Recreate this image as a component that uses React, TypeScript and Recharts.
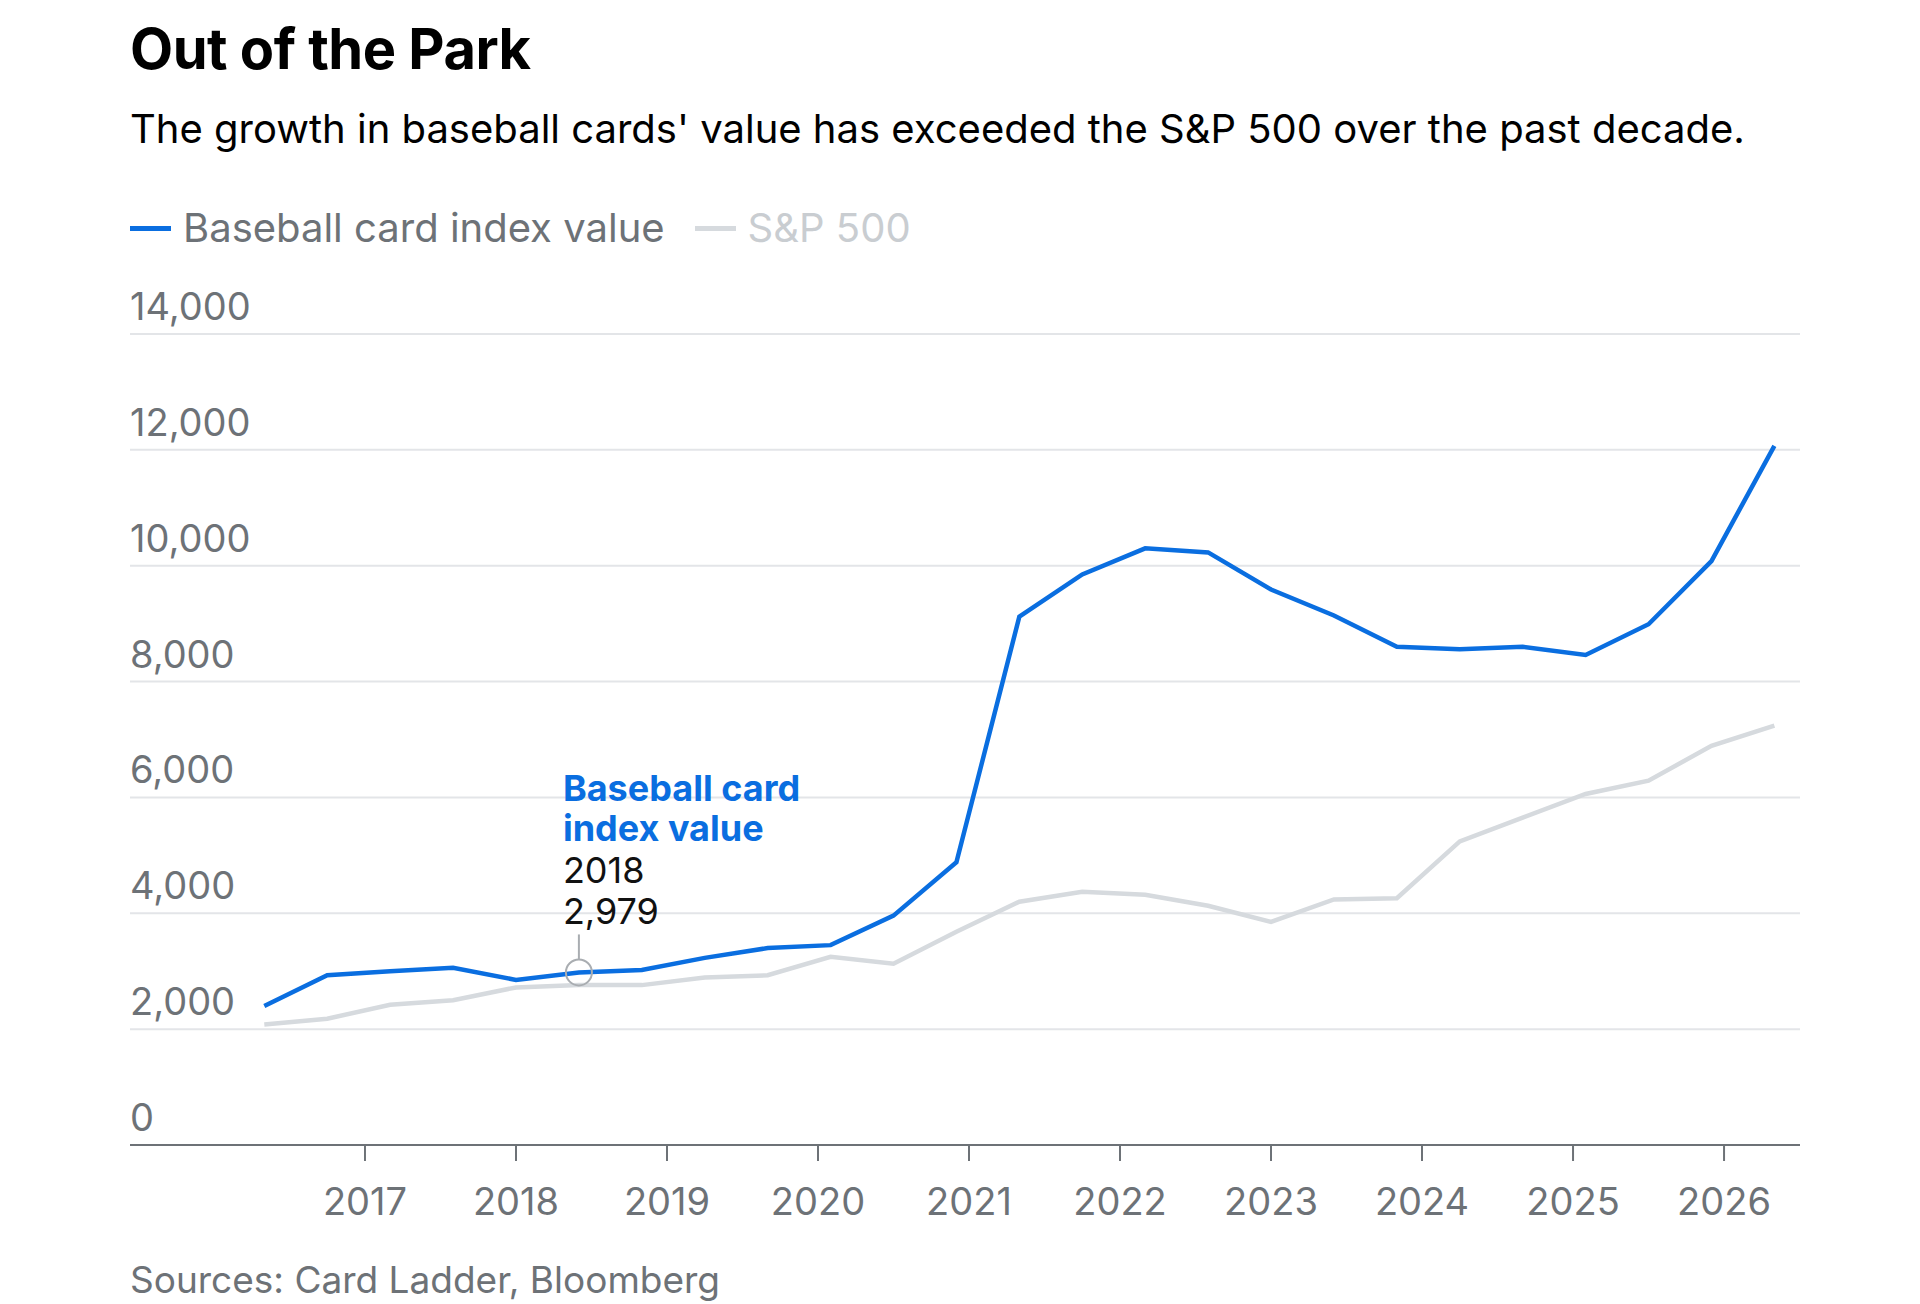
import React from "react";
import { LineChart, Line, XAxis, YAxis, CartesianGrid } from "recharts";

const startYear = 2016 + 4 / 12;
const stepYears = 5 / 12;
const cardValues = [2400, 2930, 3000, 3060, 2850, 2979, 3020, 3230, 3400, 3450, 3960, 4880, 9120, 9850, 10300, 10230, 9590, 9140, 8600, 8560, 8600, 8460, 8990, 10080, 12070];
const spValues = [2080, 2180, 2420, 2500, 2720, 2760, 2760, 2890, 2930, 3250, 3130, 3680, 4200, 4370, 4320, 4130, 3850, 4240, 4260, 5240, 5650, 6060, 6290, 6890, 7240];
const yearTicks = [2017, 2018, 2019, 2020, 2021, 2022, 2023, 2024, 2025, 2026];
const valueTicks = [0, 2000, 4000, 6000, 8000, 10000, 12000, 14000];
const annotationIndex = 5;

const data = cardValues.map((v, i) => ({ t: startYear + i * stepYears, card: v, sp: spValues[i] }));

const BLUE = "#0a6ee0";
const GRAY = "#d6dade";
const TEXT_GRAY = "#6d7277";
const FONT = "Inter, 'Noto Sans', sans-serif";

const YTick = (p: any) => (
  <text x={130} y={p.y - 14} fill={TEXT_GRAY} fontSize={38} fontFamily={FONT} textAnchor="start">
    {Number(p.payload.value).toLocaleString("en-US")}
  </text>
);

const XTick = (p: any) => (
  <g>
    <line x1={p.x} x2={p.x} y1={p.y - 8} y2={p.y + 8} stroke={TEXT_GRAY} strokeWidth={2} />
    <text x={p.x} y={p.y + 62} fill={TEXT_GRAY} fontSize={38} fontFamily={FONT} textAnchor="middle">
      {p.payload.value}
    </text>
  </g>
);

const CardDot = (p: any) => {
  if (p.index !== annotationIndex) return <g key={p.index} />;
  const { cx, cy } = p;
  const tx = cx - 16;
  return (
    <g key={p.index}>
      <circle cx={cx} cy={cy} r={13} fill="none" stroke="#a9adb1" strokeWidth={2} />
      <line x1={cx} x2={cx} y1={cy - 13} y2={cy - 38} stroke="#a9adb1" strokeWidth={2} />
      <text x={tx} fontFamily={FONT} fontSize={36}>
        <tspan x={tx} y={cy - 171} fill={BLUE} fontWeight={700}>Baseball card</tspan>
        <tspan x={tx} y={cy - 131} fill={BLUE} fontWeight={700}>index value</tspan>
        <tspan x={tx} y={cy - 89} fill="#111">2018</tspan>
        <tspan x={tx} y={cy - 48} fill="#111">{p.value.toLocaleString("en-US")}</tspan>
      </text>
    </g>
  );
};

const abs = (top: number, size: number, extra: any = {}) => ({
  position: "absolute" as const, left: 130, top: top - size * 0.6, fontSize: size, lineHeight: 1.2, fontFamily: FONT, whiteSpace: "nowrap" as const, ...extra,
});

export default function App() {
  return (
    <div style={{ position: "relative", width: 1920, height: 1304, margin: "-8px 0 0 -8px", background: "#fff", overflow: "hidden" }}>
      <div style={abs(50, 56, { fontWeight: 700, color: "#000", letterSpacing: -0.5 })}>Out of the Park</div>
      <div style={abs(129, 40, { color: "#000" })}>The growth in baseball cards' value has exceeded the S&amp;P 500 over the past decade.</div>
      <div style={{ ...abs(228, 40), display: "flex", alignItems: "center" }}>
        <span style={{ display: "inline-block", width: 41, height: 5, background: BLUE, marginRight: 12 }} />
        <span style={{ color: TEXT_GRAY }}>Baseball card index value</span>
        <span style={{ display: "inline-block", width: 41, height: 5, background: GRAY, margin: "0 12px 0 30px" }} />
        <span style={{ color: "#c9cdd1" }}>S&amp;P 500</span>
      </div>
      <div style={{ position: "absolute", left: 0, top: 0 }}>
        <LineChart width={1920} height={1304} data={data} margin={{ top: 334, bottom: 0, left: 70, right: 120 }}>
          <CartesianGrid vertical={false} stroke="#e3e5e8" strokeWidth={2} />
          <XAxis dataKey="t" type="number" domain={[2015.444, 2026.503]} ticks={yearTicks} tick={<XTick />} tickLine={false} axisLine={{ stroke: TEXT_GRAY, strokeWidth: 2 }} height={159} allowDataOverflow />
          <YAxis domain={[0, 14000]} ticks={valueTicks} tick={<YTick />} axisLine={false} tickLine={false} width={60} />
          <Line dataKey="sp" stroke={GRAY} strokeWidth={4.5} dot={false} isAnimationActive={false} />
          <Line dataKey="card" stroke={BLUE} strokeWidth={4.5} dot={<CardDot />} activeDot={false} isAnimationActive={false} />
        </LineChart>
      </div>
      <div style={abs(1280, 37, { color: TEXT_GRAY })}>Sources: Card Ladder, Bloomberg</div>
    </div>
  );
}
